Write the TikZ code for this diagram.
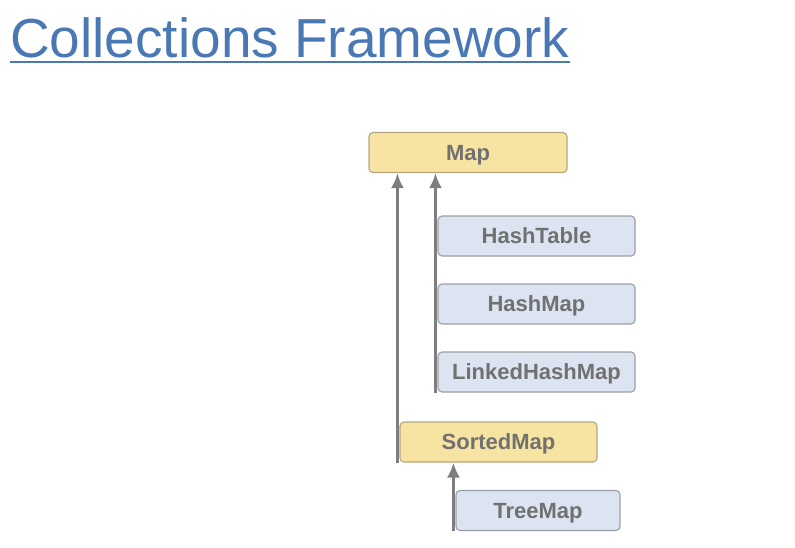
\documentclass[tikz,border=0pt]{standalone}
\usepackage{fontspec}
\setmainfont{Liberation Sans}
\usetikzlibrary{arrows.meta}
\definecolor{titleblue}{HTML}{4A78B4}
\definecolor{ifacefill}{HTML}{F8E4A2}
\definecolor{ifaceline}{HTML}{B4A67E}
\definecolor{classfill}{HTML}{DCE4F2}
\definecolor{classline}{HTML}{9A9EA6}
\definecolor{labelgray}{HTML}{717171}
\definecolor{arrowgray}{HTML}{7E7E7E}
\tikzstyle{title}=[inner sep=0pt, anchor=base west, text=titleblue, font=\fontsize{55}{60}\selectfont]
\tikzstyle{box}=[rounded corners=4pt, line width=1.1pt, minimum height=40pt, inner sep=0pt, text height=15.8pt, text depth=0pt, text=labelgray, font=\fontsize{22}{26}\selectfont\bfseries]
\tikzstyle{iface}=[box, draw=ifaceline, fill=ifacefill]
\tikzstyle{class}=[box, draw=classline, fill=classfill]
\tikzstyle{extends}=[->, line width=3pt, arrowgray]

\begin{document}
\begin{tikzpicture}[>={Latex[length=15pt,width=13pt]}, x=1pt, y=-1pt]
    \useasboundingbox (0,0) rectangle (795,547);

    % Title
    \draw (10,57) node[title] (title) {Collections Framework};
    \draw[titleblue, line width=2pt] ([yshift=-5pt]title.base west) -- ([yshift=-5pt]title.base east);

    % Interfaces
    \draw (468,152.5) node[iface, minimum width=198pt] (map) {Map};
    \draw (498.5,442) node[iface, minimum width=197pt] (smap) {SortedMap};

    % Classes
    \draw (536.5,236) node[class, minimum width=197pt] (htab) {HashTable};
    \draw (536.5,304) node[class, minimum width=197pt] (hmap) {HashMap};
    \draw (536.5,372) node[class, minimum width=197pt] (lhmap) {LinkedHashMap};
    \draw (538,510.5) node[class, minimum width=164pt] (tmap) {TreeMap};

    % Inheritance
    \draw[extends] ([xshift=-2pt]smap.south west) -- ([xshift=-2pt]smap.south west |- map.south);
    \draw[extends] ([xshift=-2pt]lhmap.south west) -- ([xshift=-2pt]lhmap.south west |- map.south);
    \draw[extends] ([xshift=-2pt]tmap.south west) -- ([xshift=-2pt]tmap.south west |- smap.south);

\end{tikzpicture}
\end{document}
